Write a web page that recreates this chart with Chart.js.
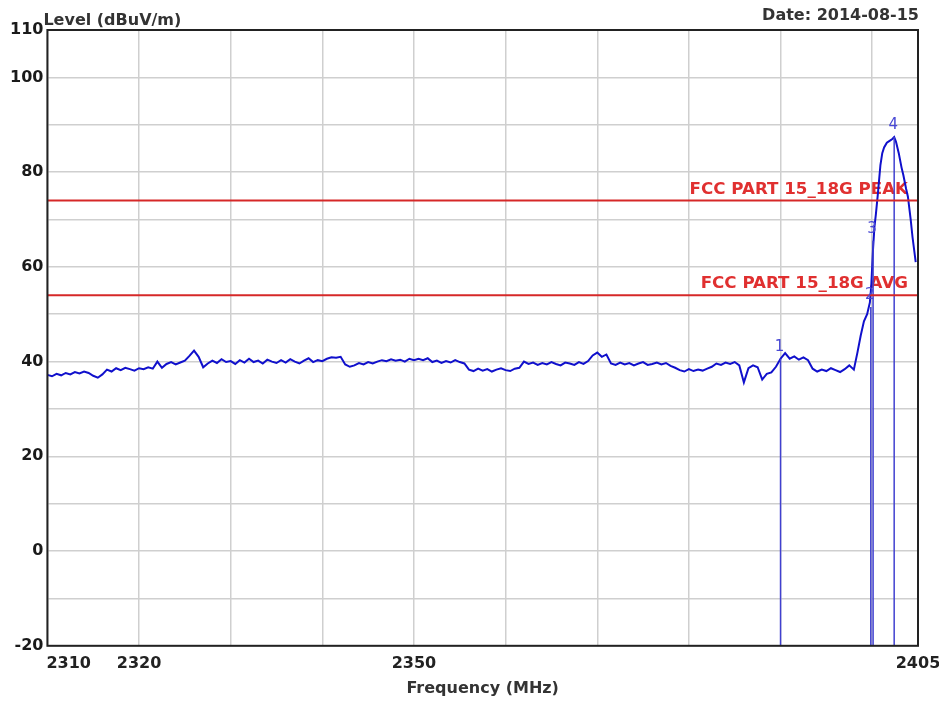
<!DOCTYPE html>
<html><head><meta charset="utf-8">
<script src="https://cdn.jsdelivr.net/npm/chart.js@4/dist/chart.umd.min.js"></script>
<style>html,body{margin:0;padding:0;background:#fff;}</style>
</head><body>
<canvas id="c" width="939" height="704"></canvas>
<script>
// ---- data ----
const noiseStartMHz = 2310;
const noiseStepMHz = 0.5;
const noiseLevels = [
  37.2, 36.9, 37.4, 37.1, 37.6, 37.3, 37.8, 37.5, 37.9, 37.6,
  37.0, 36.6, 37.3,
  38.3, 37.9, 38.6, 38.2, 38.7, 38.4, 38.1, 38.6,
  38.4, 38.8, 38.5, 40.0, 38.7,
  39.5, 39.9, 39.4, 39.8, 40.2,
  41.2, 42.3, 41.0,
  38.8,
  39.6, 40.2, 39.7, 40.5, 39.9, 40.1, 39.5, 40.3, 39.8, 40.6, 39.9, 40.2, 39.6, 40.4,
  40.0, 39.7, 40.3, 39.8, 40.5, 40.0, 39.6, 40.2, 40.7, 39.9, 40.3, 40.1, 40.6, 40.9,
  40.8, 41.0,
  39.4, 38.9, 39.2,
  39.7, 39.4, 39.9, 39.6, 40.0,
  40.3, 40.1, 40.5, 40.2, 40.4, 40.0, 40.6, 40.3,
  40.6, 40.3, 40.7,
  39.9, 40.2, 39.7, 40.1, 39.8, 40.3, 39.9, 39.6,
  38.3, 38.0, 38.5, 38.1, 38.4, 37.9, 38.3, 38.6, 38.2, 38.0, 38.5, 38.7,
  40.0, 39.5, 39.8, 39.3, 39.7, 39.4, 39.9, 39.5, 39.2, 39.8, 39.6, 39.3, 39.9, 39.5, 40.1,
  41.3, 41.9, 41.0, 41.5,
  39.6, 39.3, 39.8, 39.4, 39.7, 39.2, 39.6, 39.9, 39.3, 39.5, 39.8, 39.4, 39.7, 39.1, 38.7,
  38.2, 37.9, 38.4, 38.0, 38.3, 38.1, 38.5, 38.9,
  39.6, 39.3, 39.8, 39.5, 39.9, 39.2,
  35.6,
  38.6, 39.2, 38.8,
  36.2,
  37.4, 37.7,
  38.9, 40.6,
  41.8,
  40.6, 41.1, 40.4, 40.9, 40.3,
  38.5, 37.9, 38.3, 38.0, 38.6, 38.2, 37.8, 38.4,
  39.2, 38.3
];
const peakFreqs = [2398.4, 2398.75, 2399.1, 2399.45, 2399.75, 2399.9, 2400.1, 2400.25, 2400.4, 2400.6, 2400.9, 2401.1, 2401.3, 2401.6, 2401.9, 2402.2, 2402.4, 2402.6, 2402.9, 2403.2, 2403.4, 2403.7, 2403.9, 2404.2, 2404.4, 2404.75];
const peakLevels = [42.0, 45.5, 48.5, 50.0, 52.5, 56.0, 64.0, 68.5, 71.0, 75.0, 81.5, 84.0, 85.2, 86.2, 86.6, 87.0, 87.4, 86.4, 84.0, 81.0, 79.4, 76.5, 74.8, 70.0, 66.3, 61.0];

const limitNames = ['FCC PART 15_18G PEAK', 'FCC PART 15_18G AVG'];
const limitLevels = [74, 54];

const markerNames = ['1', '2', '3', '4'];
const markerFreqs = [2390.0, 2399.85, 2400.1, 2402.4];
const markerLevels = [40.6, 51.5, 65.5, 87.4];

const xMin = 2310, xMax = 2405;
const yMin = -20, yMax = 110;
const xGridValues = [2310, 2320, 2330, 2340, 2350, 2360, 2370, 2380, 2390, 2400, 2405];
const xTickLabels = [2310, 2320, 2350, 2405];
const yTickLabels = [110, 100, 80, 60, 40, 20, 0, -20];
const yTitle = 'Level (dBuV/m)';
const xTitle = 'Frequency (MHz)';
const dateText = 'Date: 2014-08-15';

// ---- build datasets ----
const trace = noiseLevels.map((v, i) => ({x: noiseStartMHz + i * noiseStepMHz, y: v}))
  .concat(peakFreqs.map((f, i) => ({x: f, y: peakLevels[i]})));

const datasets = [];
limitLevels.forEach((lv) => {
  datasets.push({data: [{x: xMin, y: lv}, {x: xMax, y: lv}], borderColor: '#d62828', borderWidth: 2, pointRadius: 0});
});
markerFreqs.forEach((f, i) => {
  datasets.push({data: [{x: f, y: yMin}, {x: f, y: markerLevels[i]}], borderColor: '#4040d0', borderWidth: 1.5, pointRadius: 0});
});
datasets.push({data: trace, borderColor: '#1010cc', borderWidth: 2, pointRadius: 0, tension: 0});

const FONT = '"DejaVu Sans", "Liberation Sans", sans-serif';

const overlay = {
  id: 'overlay',
  beforeDatasetsDraw(chart) {
    const {ctx, chartArea: a, scales: {y}} = chart;
    ctx.save();
    ctx.font = 'bold 16.7px ' + FONT;
    ctx.fillStyle = '#e03030';
    ctx.textAlign = 'right';
    ctx.textBaseline = 'alphabetic';
    limitNames.forEach((n, i) => {
      ctx.fillText(n, a.right - 10, y.getPixelForValue(limitLevels[i]) - 7);
    });
    ctx.restore();
  },
  afterDatasetsDraw(chart) {
    const {ctx, chartArea: a, scales: {x, y}} = chart;
    ctx.save();
    // frame
    ctx.strokeStyle = '#222';
    ctx.lineWidth = 2;
    ctx.strokeRect(a.left, a.top, a.right - a.left, a.bottom - a.top);
    // marker labels
    ctx.font = '15px ' + FONT;
    ctx.fillStyle = '#4848d4';
    ctx.textAlign = 'center';
    ctx.textBaseline = 'middle';
    markerNames.forEach((n, i) => {
      ctx.fillText(n, x.getPixelForValue(markerFreqs[i]) - 1, y.getPixelForValue(markerLevels[i]) - 12);
    });
    // x tick labels
    ctx.font = 'bold 16px ' + FONT;
    ctx.fillStyle = '#222';
    ctx.textBaseline = 'alphabetic';
    xTickLabels.forEach((v, i) => {
      ctx.textAlign = i === 0 ? 'left' : 'center';
      const px = i === 0 ? a.left - 1 : x.getPixelForValue(v);
      ctx.fillText(String(v), px, a.bottom + 22);
    });
    // titles
    ctx.fillStyle = '#333';
    ctx.textAlign = 'left';
    ctx.fillText(yTitle, a.left - 4, a.top - 5);
    ctx.textAlign = 'right';
    ctx.fillText(dateText, a.right + 1, a.top - 10);
    ctx.restore();
  }
};

new Chart(document.getElementById('c'), {
  type: 'line',
  data: {datasets},
  options: {
    responsive: false,
    devicePixelRatio: 1,
    animation: false,
    layout: {padding: {top: 30, left: 6, right: 21, bottom: 0}},
    plugins: {legend: {display: false}, tooltip: {enabled: false}},
    elements: {line: {tension: 0}},
    scales: {
      x: {
        type: 'linear', min: xMin, max: xMax,
        afterBuildTicks: (s) => { s.ticks = xGridValues.map(v => ({value: v})); },
        ticks: {display: false},
        grid: {color: '#cfcfcf', lineWidth: 1.5, drawTicks: false},
        border: {display: false},
        title: {display: true, text: xTitle, color: '#333', font: {family: FONT, size: 16, weight: 'bold'}, padding: {top: 33, bottom: 6}}
      },
      y: {
        type: 'linear', min: yMin, max: yMax,
        ticks: {
          stepSize: 10, padding: 4, color: '#1a1a1a',
          font: {family: FONT, size: 16, weight: 'bold'},
          callback: (v) => yTickLabels.includes(v) ? String(v) : ''
        },
        grid: {color: '#cfcfcf', lineWidth: 1.5, drawTicks: false},
        border: {display: false}
      }
    }
  },
  plugins: [overlay]
});
</script>
</body></html>
